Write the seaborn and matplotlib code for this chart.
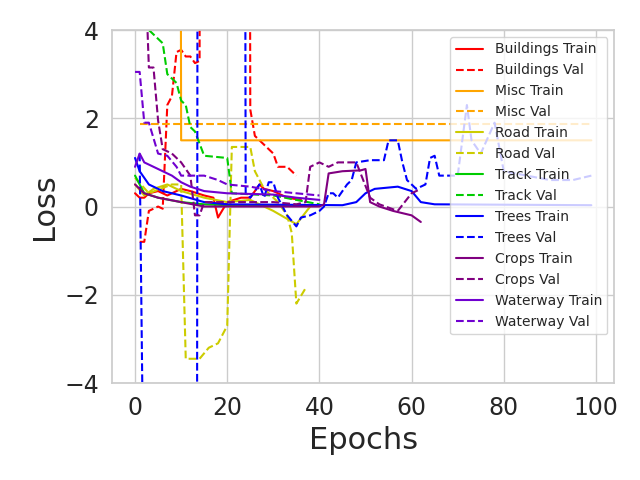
import matplotlib
matplotlib.use("Agg")
import matplotlib.pyplot as plt
import seaborn as sns

sns.set_theme(style="whitegrid")

# Each series: (epochs, values)
buildings_train_x = [0, 1, 2, 3, 5, 7, 10, 12, 15, 17, 18, 20, 23, 25, 27, 28, 30, 33, 36]
buildings_train_y = [0.3, 0.2, 0.2, 0.3, 0.35, 0.25, 0.4, 0.35, 0.25, 0.2, -0.25, 0.1, 0.2, 0.2, 0.5, 0.4, 0.35, 0.2, 0.15]
buildings_val_x = [1, 2, 3, 5, 6, 7, 8, 9, 10, 11, 12, 13, 14, 15, 24, 25, 26, 28, 30, 31, 33, 35]
buildings_val_y = [-0.8, -0.8, -0.1, 0.0, -0.05, 2.3, 2.5, 3.5, 3.55, 3.4, 3.4, 3.25, 3.3, 60, 60, 2.2, 1.6, 1.4, 1.2, 0.9, 0.9, 0.7]
misc_train_x = [9, 10, 99]
misc_train_y = [60, 1.5, 1.5]
misc_val_x = [1, 99]
misc_val_y = [1.87, 1.87]
road_train_x = [0, 2, 4, 7, 10, 15, 20, 25, 30, 35, 38]
road_train_y = [0.5, 0.25, 0.4, 0.5, 0.35, 0.2, 0.1, 0.15, -0.1, -0.4, 0.0]
road_val_x = [0, 3, 8, 10, 11, 14, 16, 18, 20, 21, 25, 26, 28, 31, 33, 34, 35, 37]
road_val_y = [0.65, 0.3, 0.5, 0.5, -3.45, -3.45, -3.2, -3.1, -2.7, 1.35, 1.35, 0.8, 0.4, 0.1, -0.2, -0.6, -2.2, -1.85]
track_train_x = [0, 2, 5, 10, 15, 20, 40]
track_train_y = [0.7, 0.3, 0.2, 0.1, 0.05, 0.03, 0.03]
track_val_x = [1, 2, 4, 6, 7, 9, 10, 11, 12, 13, 15, 20, 21, 30, 35, 40]
track_val_y = [6.0, 4.1, 3.9, 3.7, 3.0, 2.8, 2.4, 2.3, 1.8, 1.7, 1.15, 1.1, 0.3, 0.25, 0.15, 0.05]
trees_train_x = [0, 1, 3, 6, 10, 15, 20, 45, 48, 50, 52, 57, 60, 62, 65, 99]
trees_train_y = [1.1, 0.8, 0.5, 0.35, 0.25, 0.1, 0.05, 0.03, 0.1, 0.3, 0.4, 0.45, 0.35, 0.1, 0.05, 0.03]
trees_val_x = [1, 2, 13, 14, 23, 24, 25, 27, 28, 29, 30, 31, 33, 35, 36, 38, 40, 41, 42, 43, 44, 46, 47, 48, 51, 54, 55, 57, 58, 59, 61, 63, 64, 65, 66, 70, 72, 73, 75, 78, 80, 85, 90, 95, 99]
trees_val_y = [1.2, -8, -60, 60, 60, 0.3, 0.2, 0.5, 0.2, 0.55, 0.55, 0.2, -0.2, -0.45, -0.25, -0.2, -0.1, 0.0, 0.3, 0.3, 0.2, 0.5, 0.6, 1.0, 1.05, 1.05, 1.5, 1.5, 1.0, 0.6, 0.4, 0.5, 1.1, 1.15, 0.7, 0.7, 2.3, 1.5, 1.2, 1.9, 0.8, 0.7, 0.6, 0.6, 0.7]
crops_train_x = [0, 2, 5, 10, 15, 40, 41, 42, 45, 49, 50, 51, 53, 56, 60, 62]
crops_train_y = [0.5, 0.3, 0.2, 0.1, 0.0, 0.0, 0.05, 0.75, 0.8, 0.82, 0.85, 0.1, 0.0, -0.1, -0.2, -0.35]
crops_val_x = [2, 3, 4, 5, 6, 8, 10, 12, 13, 14, 15, 30, 35, 37, 38, 40, 42, 44, 48, 51, 53, 57, 60, 62]
crops_val_y = [6.0, 3.15, 3.15, 1.95, 1.3, 1.2, 1.0, 0.7, -0.2, -0.2, 0.1, 0.1, 0.05, 0.1, 0.9, 1.0, 0.9, 1.0, 1.0, 0.2, 0.05, -0.1, 0.3, 0.4]
waterway_train_x = [0, 1, 2, 5, 8, 10, 12, 15, 20, 30, 35, 40]
waterway_train_y = [0.9, 1.2, 1.0, 0.85, 0.7, 0.55, 0.45, 0.35, 0.3, 0.27, 0.2, 0.15]
waterway_val_x = [0, 1, 2, 3, 5, 7, 9, 10, 15, 18, 20, 25, 30, 35, 40]
waterway_val_y = [3.05, 3.05, 1.9, 1.9, 1.2, 1.15, 0.9, 0.7, 0.7, 0.6, 0.5, 0.45, 0.35, 0.3, 0.25]

series = [
    ("Buildings", "red", buildings_train_x, buildings_train_y, buildings_val_x, buildings_val_y),
    ("Misc", "orange", misc_train_x, misc_train_y, misc_val_x, misc_val_y),
    ("Road", "#cccc00", road_train_x, road_train_y, road_val_x, road_val_y),
    ("Track", "#00cc00", track_train_x, track_train_y, track_val_x, track_val_y),
    ("Trees", "blue", trees_train_x, trees_train_y, trees_val_x, trees_val_y),
    ("Crops", "purple", crops_train_x, crops_train_y, crops_val_x, crops_val_y),
    ("Waterway", "#7000d0", waterway_train_x, waterway_train_y, waterway_val_x, waterway_val_y),
]

fig, ax = plt.subplots(figsize=(6.4, 4.8), dpi=100)
for name, color, tx, ty, vx, vy in series:
    sns.lineplot(x=tx, y=ty, color=color, linestyle="-", label=f"{name} Train", ax=ax, linewidth=1.5)
    sns.lineplot(x=vx, y=vy, color=color, linestyle="--", label=f"{name} Val", ax=ax, linewidth=1.5)

ax.set_ylim(-4, 4)
ax.set_xlim(-5, 104)
ax.set_xticks([0, 20, 40, 60, 80, 100])
ax.tick_params(labelsize=17)
ax.set_xlabel("Epochs", fontsize=22)
ax.set_ylabel("Loss", fontsize=22)
ax.legend(fontsize=10, loc="upper right")
fig.subplots_adjust(left=0.175, right=0.96, top=0.9375, bottom=0.202)
fig.savefig("out.png", dpi=100)
